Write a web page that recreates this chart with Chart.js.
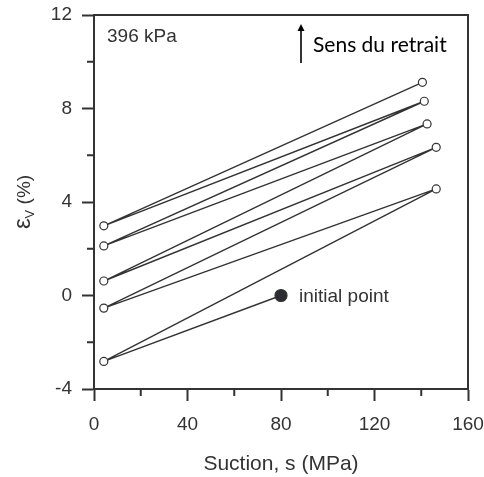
<!DOCTYPE html>
<html>
<head>
<meta charset="utf-8">
<script src="https://cdn.jsdelivr.net/npm/chart.js@4.4.1/dist/chart.umd.min.js"></script>
<style>
  html, body { margin: 0; padding: 0; background: #fff; }
  #wrap { width: 484px; height: 477px; position: relative; }
</style>
</head>
<body>
<div id="wrap"><canvas id="strainChart"></canvas></div>
<script>
// suction path: initial point, then wetting / drying cycles
var suction = [80, 4.2, 146.4, 4.2, 146.4, 4.2, 142.5, 4.2, 141.3, 4.2, 140.5];
var strain = [0, -2.82, 4.56, -0.54, 6.34, 0.62, 7.34, 2.12, 8.31, 2.98, 9.12];
var xTicks = [0, 40, 80, 120, 160];
var yTicks = [-4, 0, 4, 8, 12];

var ink = '#333';
var font = "'Liberation Sans', Arial, sans-serif";

var points = [];
for (var i = 0; i < suction.length; i++) {
    points.push({ x: suction[i], y: strain[i] });
}

var isMajor = function(list, v) {
    return list.indexOf(v) !== -1;
};

var decorations = {
    id: 'decorations',
    afterDraw: function(chart) {
        var ctx = chart.ctx;
        var area = chart.chartArea;
        var xs = chart.scales.x;
        var ys = chart.scales.y;
        ctx.save();
        ctx.strokeStyle = ink;
        ctx.lineWidth = 2;

        // top and right frame
        ctx.beginPath();
        ctx.moveTo(area.left, area.top);
        ctx.lineTo(area.right, area.top);
        ctx.lineTo(area.right, area.bottom);
        ctx.stroke();

        // minor ticks
        ctx.beginPath();
        xs.ticks.forEach(function(t) {
            if (!isMajor(xTicks, t.value)) {
                var px = xs.getPixelForValue(t.value);
                ctx.moveTo(px, area.bottom);
                ctx.lineTo(px, area.bottom + 7);
            }
        });
        ys.ticks.forEach(function(t) {
            if (!isMajor(yTicks, t.value)) {
                var py = ys.getPixelForValue(t.value);
                ctx.moveTo(area.left, py);
                ctx.lineTo(area.left - 7, py);
            }
        });
        ctx.stroke();

        // y title with subscript
        ctx.fillStyle = ink;
        ctx.textBaseline = 'alphabetic';
        ctx.translate(30, (area.top + area.bottom) / 2);
        ctx.rotate(-Math.PI / 2);
        ctx.font = '24px ' + font;
        var w1 = ctx.measureText('\u03b5').width;
        ctx.font = '13px ' + font;
        var w2 = ctx.measureText('V').width;
        ctx.font = '19px ' + font;
        var w3 = ctx.measureText(' (%)').width;
        var start = -(w1 + w2 + w3) / 2;
        ctx.font = '24px ' + font;
        ctx.fillText('\u03b5', start, 0);
        ctx.font = '13px ' + font;
        ctx.fillText('V', start + w1, 4);
        ctx.font = '19px ' + font;
        ctx.fillText(' (%)', start + w1 + w2, 0);
        ctx.restore();

        // annotations
        ctx.save();
        ctx.fillStyle = ink;
        ctx.textBaseline = 'middle';
        ctx.font = '19px ' + font;
        ctx.fillText('396 kPa', area.left + 13, area.top + 22);
        ctx.fillText('initial point', xs.getPixelForValue(suction[0]) + 18, ys.getPixelForValue(strain[0]) + 1);

        ctx.fillStyle = '#000';
        ctx.font = "21px Lato, 'Open Sans', sans-serif";
        ctx.fillText('Sens du retrait', 313, 45);

        // arrow
        ctx.strokeStyle = '#000';
        ctx.lineWidth = 1.6;
        ctx.beginPath();
        ctx.moveTo(301, 63);
        ctx.lineTo(301, 29);
        ctx.stroke();
        ctx.beginPath();
        ctx.moveTo(301, 24);
        ctx.lineTo(297.5, 31);
        ctx.lineTo(304.5, 31);
        ctx.closePath();
        ctx.fillStyle = '#000';
        ctx.fill();
        ctx.restore();
    }
};

var ctxS = document.getElementById('strainChart').getContext('2d');
var strainChart = new Chart(ctxS, {
    type: 'scatter',
    data: {
        datasets: [{
            data: points,
            showLine: true,
            borderColor: ink,
            borderWidth: 1.4,
            pointRadius: points.map(function(p, i) { return i === 0 ? 6 : 4; }),
            pointBackgroundColor: points.map(function(p, i) { return i === 0 ? '#2b2d33' : '#fff'; }),
            pointBorderColor: ink,
            pointBorderWidth: 1.2,
            tension: 0
        }]
    },
    options: {
        responsive: true,
        maintainAspectRatio: false,
        animation: false,
        layout: { padding: { left: 0, top: 15, right: 16, bottom: 0 } },
        plugins: {
            legend: { display: false },
            tooltip: { enabled: false }
        },
        scales: {
            x: {
                type: 'linear',
                min: 0,
                max: 160,
                afterFit: function(scale) {
                    scale.height = 88;
                    scale.paddingLeft = 0;
                    scale.paddingRight = 0;
                },
                border: { display: true, color: ink, width: 2 },
                grid: {
                    drawOnChartArea: false,
                    tickLength: 12,
                    tickWidth: 2,
                    tickColor: function(c) {
                        return c.tick && isMajor(xTicks, c.tick.value) ? ink : 'rgba(0,0,0,0)';
                    }
                },
                ticks: {
                    stepSize: 20,
                    autoSkip: false,
                    maxRotation: 0,
                    padding: 12,
                    color: ink,
                    font: { family: font, size: 19 },
                    callback: function(v) { return isMajor(xTicks, v) ? v : ''; }
                },
                title: {
                    display: true,
                    text: 'Suction, s (MPa)',
                    color: ink,
                    padding: { top: 0, bottom: 0 },
                    font: { family: font, size: 21 }
                }
            },
            y: {
                type: 'linear',
                min: -4,
                max: 12,
                afterFit: function(scale) {
                    scale.width = 94;
                    scale.paddingTop = 0;
                    scale.paddingBottom = 0;
                },
                border: { display: true, color: ink, width: 2 },
                grid: {
                    drawOnChartArea: false,
                    tickLength: 12,
                    tickWidth: 2,
                    tickColor: function(c) {
                        return c.tick && isMajor(yTicks, c.tick.value) ? ink : 'rgba(0,0,0,0)';
                    }
                },
                ticks: {
                    stepSize: 2,
                    autoSkip: false,
                    padding: 10,
                    color: ink,
                    font: { family: font, size: 19 },
                    callback: function(v) { return isMajor(yTicks, v) ? v : ''; }
                }
            }
        }
    },
    plugins: [decorations]
});
</script>
</body>
</html>
